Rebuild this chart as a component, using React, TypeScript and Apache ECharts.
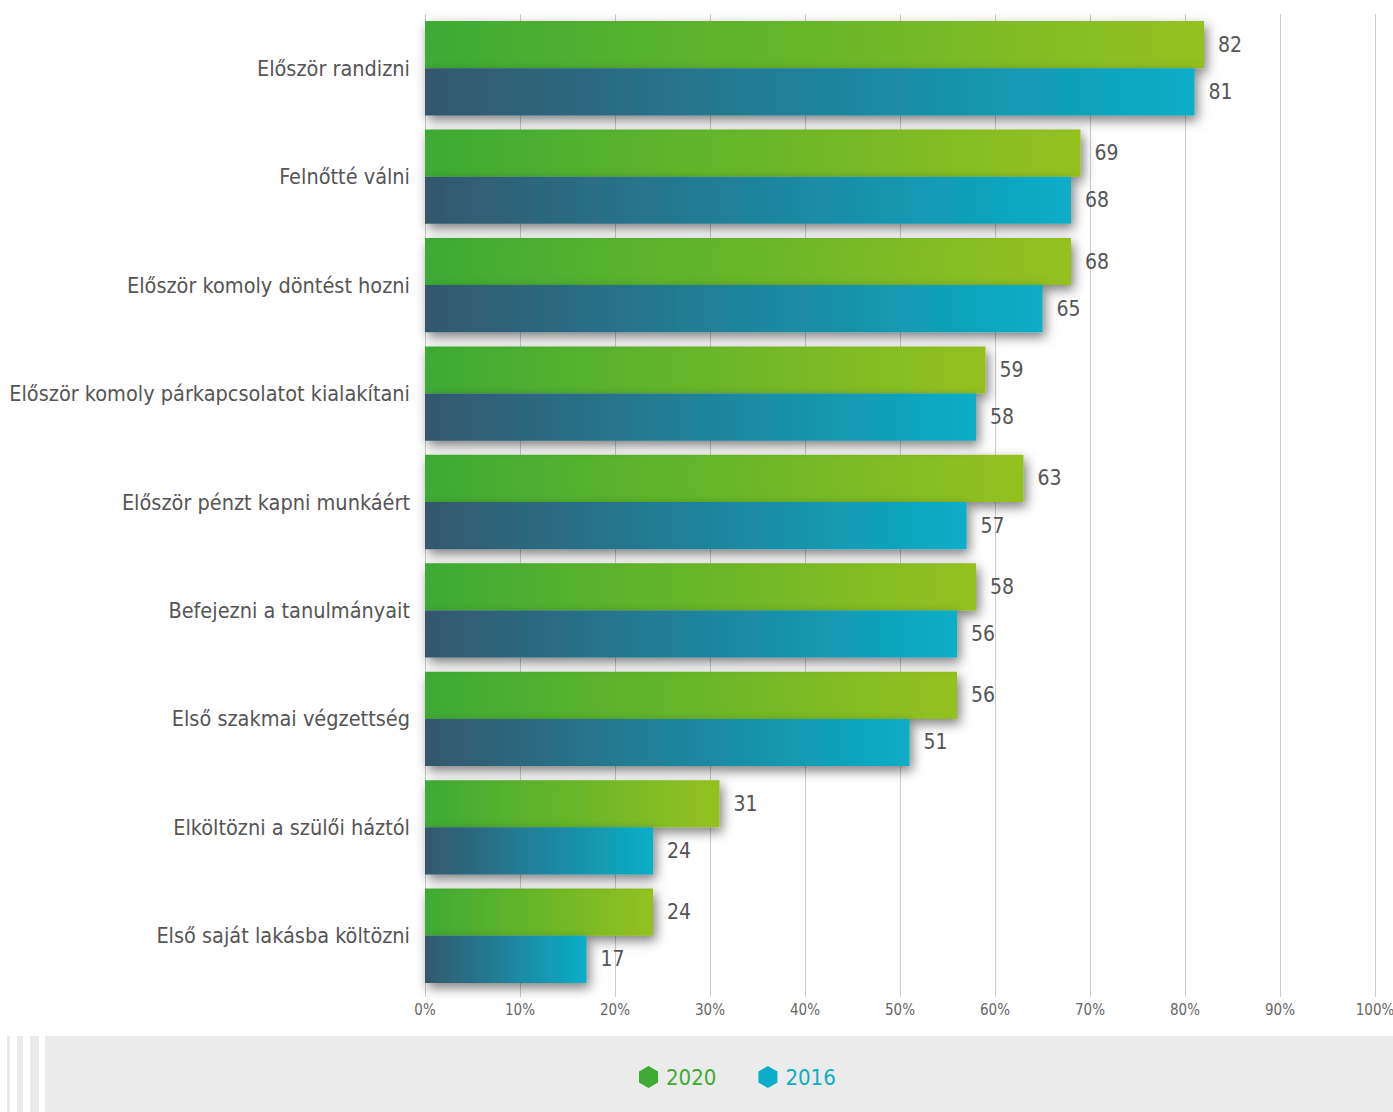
import React, { useEffect, useRef } from "react";
import * as echarts from "echarts";

const categories = [
  "Először randizni",
  "Felnőtté válni",
  "Először komoly döntést hozni",
  "Először komoly párkapcsolatot kialakítani",
  "Először pénzt kapni munkáért",
  "Befejezni a tanulmányait",
  "Első szakmai végzettség",
  "Elköltözni a szülői háztól",
  "Első saját lakásba költözni",
];
const values2020 = [82, 69, 68, 59, 63, 58, 56, 31, 24];
const values2016 = [81, 68, 65, 58, 57, 56, 51, 24, 17];
const xTicks = [0, 10, 20, 30, 40, 50, 60, 70, 80, 90, 100];

const FONT = "'DejaVu Sans Condensed', 'Liberation Sans Narrow', sans-serif";
const HEX = "path://M0,-1 L0.866,-0.5 L0.866,0.5 L0,1 L-0.866,0.5 L-0.866,-0.5 Z";

export default function App() {
  const ref = useRef<HTMLDivElement>(null);
  useEffect(() => {
    document.body.style.margin = "0";
    const chart = echarts.init(ref.current!, null, { renderer: "svg" });
    const shadow = {
      shadowBlur: 12,
      shadowOffsetX: 3,
      shadowOffsetY: 5,
      shadowColor: "rgba(0,0,0,0.5)",
    };
    const valueLabel = {
      show: true,
      position: "right",
      distance: 14,
      color: "#555555",
      fontSize: 21,
      fontFamily: FONT,
    };
    chart.setOption({
      animation: false,
      backgroundColor: "#ffffff",
      textStyle: { fontFamily: FONT },
      graphic: [
        { type: "rect", shape: { x: 7, y: 1036, width: 3, height: 76 }, style: { fill: "#ebebeb" } },
        { type: "rect", shape: { x: 17, y: 1036, width: 6, height: 76 }, style: { fill: "#ebebeb" } },
        { type: "rect", shape: { x: 30, y: 1036, width: 9, height: 76 }, style: { fill: "#ebebeb" } },
        { type: "rect", shape: { x: 45, y: 1036, width: 1348, height: 76 }, style: { fill: "#ebebeb" }, z: -1 },
      ],
      grid: { left: 425, right: 18, top: 14, bottom: 122, containLabel: false, outerBoundsMode: "none" },
      legend: {
        left: 634,
        top: 1061,
        itemWidth: 21,
        itemHeight: 22,
        itemGap: 42,
        z: 10,
        textStyle: { fontFamily: FONT, fontSize: 22, padding: [0, 0, 0, 2] },
        data: [
          { name: "2020", icon: HEX, itemStyle: { color: "#3dab34" }, textStyle: { color: "#3dab34" } },
          { name: "2016", icon: HEX, itemStyle: { color: "#0aaec8" }, textStyle: { color: "#0aaec8" } },
        ],
      },
      xAxis: {
        type: "value",
        min: xTicks[0],
        max: xTicks[xTicks.length - 1],
        interval: 10,
        axisLine: { show: false },
        axisTick: { show: true, length: 7, lineStyle: { color: "#cccccc" } },
        splitLine: { show: true, lineStyle: { color: "#cccccc", width: 1 } },
        axisLabel: { formatter: "{value}%", color: "#666666", fontSize: 15, fontFamily: FONT, margin: 12 },
      },
      yAxis: {
        type: "category",
        data: categories,
        inverse: true,
        axisLine: { show: false },
        axisTick: { show: false },
        axisLabel: { color: "#555555", fontSize: 21.5, fontFamily: FONT, margin: 15 },
      },
      series: [
        {
          name: "2020",
          type: "bar",
          data: values2020,
          barGap: "0%",
          barCategoryGap: "13%",
          itemStyle: {
            color: new echarts.graphic.LinearGradient(0, 0, 1, 0, [
              { offset: 0, color: "#3dab34" },
              { offset: 1, color: "#95c11f" },
            ]),
            ...shadow,
          },
          label: valueLabel,
        },
        {
          name: "2016",
          type: "bar",
          data: values2016,
          barGap: "0%",
          barCategoryGap: "13%",
          itemStyle: {
            color: new echarts.graphic.LinearGradient(0, 0, 1, 0, [
              { offset: 0, color: "#34576d" },
              { offset: 1, color: "#0aaec8" },
            ]),
            ...shadow,
          },
          label: valueLabel,
        },
      ],
    });
    return () => chart.dispose();
  }, []);
  return <div ref={ref} style={{ position: "fixed", left: 0, top: 0, width: 1393, height: 1112 }} />;
}
